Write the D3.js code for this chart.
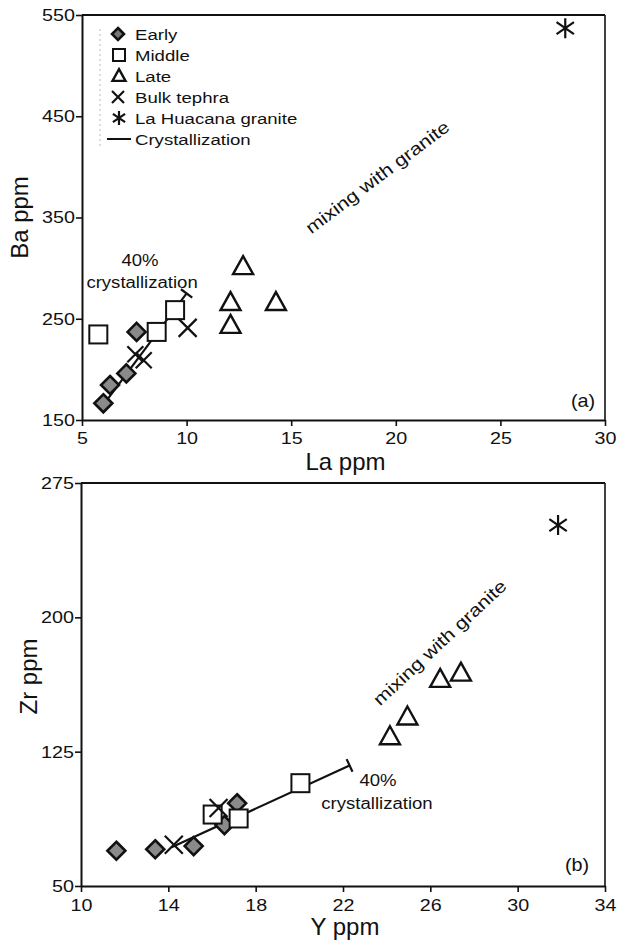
<!DOCTYPE html>
<html>
<head>
<meta charset="utf-8">
<script src="https://cdn.jsdelivr.net/npm/d3@7"></script>
<style>
  html, body { margin: 0; padding: 0; background: #fff; }
  svg { display: block; }
  text { font-family: "Liberation Sans", Arial, sans-serif; fill: #111; }
</style>
</head>
<body>
<svg id="chart" width="617" height="948"></svg>
<script>
// ---------- Panel (a): La vs Ba ----------
const earlyA   = [[6.02,166.5],[6.34,184.6],[7.12,196],[7.61,237]];
const middleA  = [[5.78,234.5],[8.57,237],[9.45,258.5]];
const lateA    = [[12.7,300],[12.1,264.5],[12.1,242],[14.27,264.5]];
const bulkA    = [[10.05,241],[7.55,215],[7.95,209]];
const graniteA = [[28.1,537]];
const crystA   = [[5.95,163],[10.0,275]];
const xTicksA  = [5,10,15,20,25,30];
const yTicksA  = [150,250,350,450,550];

// ---------- Panel (b): Y vs Zr ----------
const earlyB   = [[11.62,69.7],[13.4,70.5],[15.16,72.3],[16.57,84],[17.15,96.2]];
const middleB  = [[16.03,89.9],[17.22,87.7],[20.05,107.4]];
const lateB    = [[24.15,132.5],[24.95,143.5],[26.45,164.5],[27.4,168]];
const bulkB    = [[16.3,93.5],[14.25,73]];
const graniteB = [[31.85,251.5]];
const crystB   = [[14.15,71.6],[22.3,117.3]];
const xTicksB  = [10,14,18,22,26,30,34];
const yTicksB  = [50,125,200,275];

const legendLabels = ["Early","Middle","Late","Bulk tephra","La Huacana granite","Crystallization"];

const svg = d3.select("#chart");
const INK = "#111";
const SX = 1.16; // horizontal stretch of the original lettering

// shape drawers
function diamond(g, x, y, r, fill) {
  g.append("path").attr("d", `M${x},${y-r}L${x+r},${y}L${x},${y+r}L${x-r},${y}Z`)
    .attr("fill", fill).attr("stroke", INK).attr("stroke-width", 2.6);
}
function square(g, x, y, s) {
  g.append("rect").attr("x", x - s/2).attr("y", y - s/2).attr("width", s).attr("height", s)
    .attr("fill", "#fff").attr("stroke", INK).attr("stroke-width", 2);
}
function triangle(g, x, y, w) {
  const h = w * 0.9;
  g.append("path").attr("d", `M${x},${y-2*h/3}L${x+w/2},${y+h/3}L${x-w/2},${y+h/3}Z`)
    .attr("fill", "#fff").attr("stroke", INK).attr("stroke-width", 2.4).attr("stroke-linejoin","miter");
}
function cross(g, x, y, r) {
  g.append("path").attr("d", `M${x-r},${y-r}L${x+r},${y+r}M${x-r},${y+r}L${x+r},${y-r}`)
    .attr("stroke", INK).attr("stroke-width", 2.2).attr("fill", "none");
}
function asterisk(g, x, y, r) {
  const a = r * 0.87, b = r * 0.6;
  g.append("path").attr("d", `M${x},${y-r}L${x},${y+r}M${x-a},${y-b}L${x+a},${y+b}M${x-a},${y+b}L${x+a},${y-b}`)
    .attr("stroke", INK).attr("stroke-width", 2.2).attr("fill", "none");
}
function label(g, x, y, s, size, anchor, rot, sx) {
  return g.append("text")
    .attr("transform", `translate(${x},${y}) rotate(${rot||0}) scale(${sx||1},1)`)
    .attr("text-anchor", anchor || "start")
    .style("font-size", size + "px")
    .text(s);
}
function capLine(g, p0, p1, cap) {
  g.append("line").attr("x1", p0[0]).attr("y1", p0[1]).attr("x2", p1[0]).attr("y2", p1[1])
    .attr("stroke", INK).attr("stroke-width", 2.2);
  const dx = p1[0]-p0[0], dy = p1[1]-p0[1], L = Math.hypot(dx, dy);
  const nx = -dy / L * cap, ny = dx / L * cap;
  g.append("line").attr("x1", p1[0]-nx).attr("y1", p1[1]-ny).attr("x2", p1[0]+nx).attr("y2", p1[1]+ny)
    .attr("stroke", INK).attr("stroke-width", 2.2);
}

function panel(cfg) {
  const {x, y, xTicks, yTicks, xPad, yTitle, xTitle, xTitleY, yTitleX, tag, tagPos} = cfg;
  const g = svg.append("g");
  const [x0, x1] = x.range(), [y0, y1] = y.range(); // y0 bottom, y1 top

  // frame top/right
  g.append("line").attr("x1", x0).attr("x2", x1).attr("y1", y1).attr("y2", y1)
    .attr("stroke", INK).attr("stroke-width", 2.2);
  g.append("line").attr("x1", x1).attr("x2", x1).attr("y1", y1).attr("y2", y0)
    .attr("stroke", INK).attr("stroke-width", 1.6);

  const ax = g.append("g").attr("transform", `translate(0,${y0})`)
    .call(d3.axisBottom(x).tickValues(xTicks).tickSize(6).tickSizeOuter(0).tickPadding(xPad).tickFormat(d3.format("d")));
  const ay = g.append("g").attr("transform", `translate(${x0},0)`)
    .call(d3.axisLeft(y).tickValues(yTicks).tickSize(6).tickSizeOuter(0).tickPadding(1).tickFormat(d3.format("d")));
  [ax, ay].forEach(a => {
    a.select(".domain").attr("stroke", INK).attr("stroke-width", 2);
    a.selectAll(".tick line").attr("stroke", INK).attr("stroke-width", 1.6);
    a.selectAll(".tick text").style("font-size", "17px").style("font-family", '"Liberation Sans", Arial, sans-serif')
      .attr("fill", INK);
  });
  ax.selectAll(".tick text").attr("transform", `scale(${SX},1)`);
  ay.selectAll(".tick text").attr("x", -7 / SX).attr("transform", `scale(${SX},1)`);

  label(g, (x0 + x1) / 2 + 2, xTitleY, xTitle, 24, "middle");
  label(g, yTitleX, (y0 + y1) / 2 + cfg.yTitleOff, yTitle, 24, "middle", -90);
  label(g, tagPos[0], tagPos[1], tag, 18, "middle", 0, 1.1);
  return g;
}

// ----- scales -----
const xA = d3.scaleLinear().domain([5, 30]).range([82, 605]);
const yA = d3.scaleLinear().domain([150, 550]).range([420, 15]);
const xB = d3.scaleLinear().domain([10, 34]).range([81, 605]);
const yB = d3.scaleLinear().domain([50, 275]).range([886, 483]);

// ----- Panel a -----
const gA = panel({x: xA, y: yA, xTicks: xTicksA, yTicks: yTicksA, xPad: 6,
  yTitle: "Ba ppm", xTitle: "La ppm", xTitleY: 470, yTitleX: 28, yTitleOff: 0,
  tag: "(a)", tagPos: [583, 407]});

const pA = d => [xA(d[0]), yA(d[1])];
capLine(gA, pA(crystA[0]), pA(crystA[1]), 7);
bulkA.slice(1).forEach(d => cross(gA, ...pA(d), 8));
earlyA.forEach(d => diamond(gA, ...pA(d), 9, "#8a8a8a"));
middleA.forEach(d => square(gA, ...pA(d), 18));
cross(gA, ...pA(bulkA[0]), 9);
lateA.forEach(d => triangle(gA, ...pA(d), 20));
graniteA.forEach(d => asterisk(gA, ...pA(d), 10));

label(gA, xA(7.77), yA(302), "40%", 16, "middle", 0, SX);
label(gA, xA(7.87), yA(280.5), "crystallization", 16, "middle", 0, SX);
label(gA, 381, 182, "mixing with granite", 17.6, "middle", -37, 1.2);

// legend
const lg = svg.append("g");
lg.append("line").attr("x1", 100).attr("x2", 100).attr("y1", 29).attr("y2", 148)
  .attr("stroke", "#bbb").attr("stroke-width", 1).attr("stroke-dasharray", "2,3");
legendLabels.forEach((t, i) => {
  const by = 39.5 + i * 21, cy = by - 5.5;
  if (i === 0) diamond(lg, 118, cy, 6, "#777");
  if (i === 1) square(lg, 119, cy, 12);
  if (i === 2) triangle(lg, 119, cy + 1, 13);
  if (i === 3) cross(lg, 118, cy, 6);
  if (i === 4) asterisk(lg, 119, cy, 7);
  if (i === 5) lg.append("line").attr("x1", 107).attr("x2", 131).attr("y1", cy).attr("y2", cy)
                 .attr("stroke", INK).attr("stroke-width", 2);
  label(lg, 135, by, t, 15.5, "start", 0, 1.2);
});

// ----- Panel b -----
const gB = panel({x: xB, y: yB, xTicks: xTicksB, yTicks: yTicksB, xPad: 7,
  yTitle: "Zr ppm", xTitle: "Y ppm", xTitleY: 935, yTitleX: 37, yTitleOff: -8,
  tag: "(b)", tagPos: [577, 871]});

const pB = d => [xB(d[0]), yB(d[1])];
capLine(gB, pB(crystB[0]), pB(crystB[1]), 7);
earlyB.forEach(d => diamond(gB, ...pB(d), 9, "#8a8a8a"));
middleB.forEach(d => square(gB, ...pB(d), 18));
bulkB.forEach(d => cross(gB, ...pB(d), 9));
lateB.forEach(d => triangle(gB, ...pB(d), 20));
graniteB.forEach(d => asterisk(gB, ...pB(d), 10));

label(gB, 378, 786, "40%", 16, "middle", 0, SX);
label(gB, 377, 809, "crystallization", 16, "middle", 0, SX);
label(gB, 444, 647, "mixing with granite", 17.6, "middle", -43, 1.2);
</script>
</body>
</html>
